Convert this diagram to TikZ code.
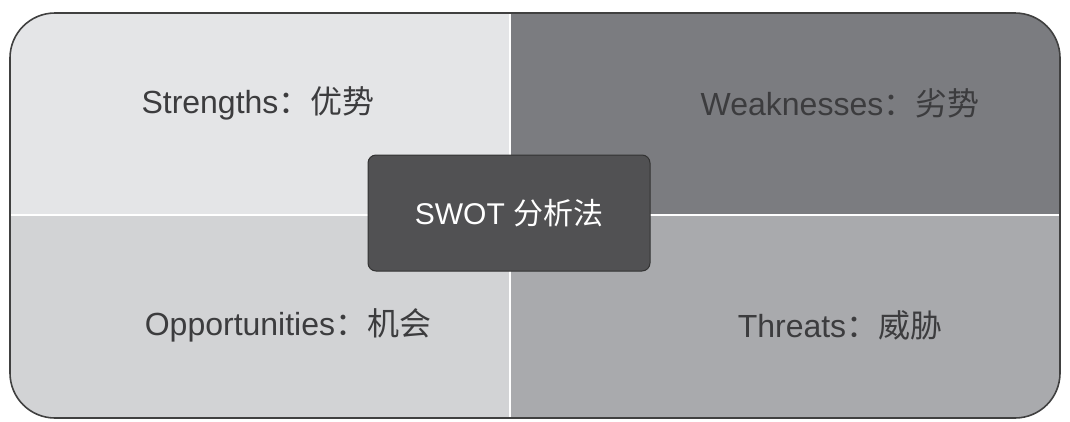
\documentclass[tikz,border=0pt]{standalone}
\usepackage{fontspec}
\setmainfont{Liberation Sans}
\newfontfamily\cjk{Noto Sans CJK SC}
\definecolor{sgray}{HTML}{E4E5E7}
\definecolor{wgray}{HTML}{7B7C80}
\definecolor{ogray}{HTML}{D2D3D5}
\definecolor{tgray}{HTML}{A9AAAD}
\definecolor{cgray}{HTML}{515153}
\definecolor{txt}{HTML}{3C3C3E}
\tikzset{label/.style={text=txt,font=\fontsize{32}{38}\selectfont}}

\begin{document}
\begin{tikzpicture}[x=1pt,y=-1pt]
\useasboundingbox (0,0) rectangle (1070,421);
\begin{scope}
\clip[rounded corners=45pt] (10,13) rectangle (1060,418);
\fill[sgray] (10,13) rectangle (510,215);
\fill[wgray] (510,13) rectangle (1060,215);
\fill[ogray] (10,215) rectangle (510,418);
\fill[tgray] (510,215) rectangle (1060,418);
\draw[white, line width=2.5pt] (510,13) -- (510,418);
\draw[white, line width=2.5pt] (10,215) -- (1060,215);
\end{scope}
\draw[black!75, line width=1.6pt, rounded corners=45pt] (10,13) rectangle (1060,418);
\node[label] (s) at (258,103) {Strengths{\cjk ：优势}};
\node[label] (w) at (840,103) {Weaknesses{\cjk ：劣势}};
\node[label] (o) at (288,325) {Opportunities{\cjk ：机会}};
\node[label] (t) at (840,325) {Threats{\cjk ：威胁}};
\node[fill=cgray, draw=black!80, line width=1pt, rounded corners=8pt,
  minimum width=282pt, minimum height=116pt, text=white,
  font=\fontsize{30}{36}\selectfont] (swot) at (509,213) {SWOT {\cjk 分析法}};
\end{tikzpicture}
\end{document}
